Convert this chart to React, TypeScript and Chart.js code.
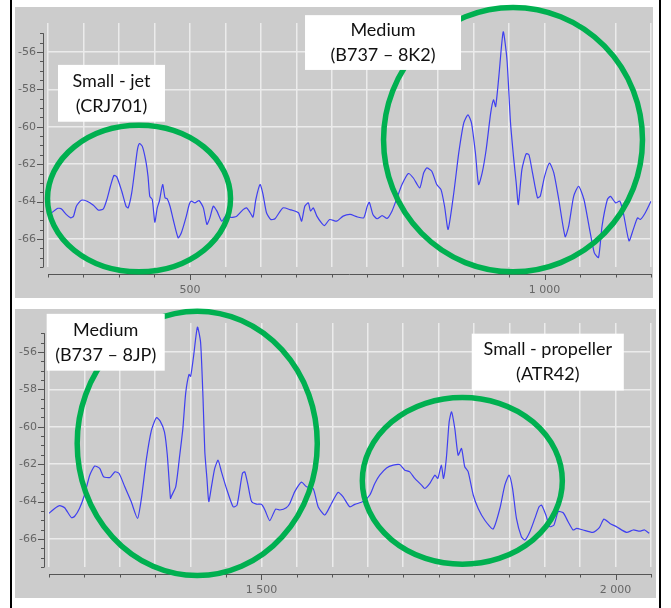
import React, { useEffect, useRef } from "react";
import { Chart, registerables } from "chart.js";

Chart.register(...registerables);

// ---------- DATA ----------
const topX = [
  305, 314, 319, 326, 332, 336, 340, 347, 355, 364, 371, 378, 383, 388, 393, 397, 404, 410, 413, 418,
  423, 426, 429, 433, 438, 441, 443.5, 447, 450.6, 454, 457, 461.6, 465, 468, 472, 476.5, 483.5, 488, 495, 499,
  502, 507, 513, 519, 524, 528, 533, 538, 545, 552, 558, 566, 575, 580, 585, 589, 593, 599, 603, 608,
  614, 620, 631, 641, 653, 657.5, 662, 667, 670, 674, 679, 686, 690, 697, 707, 716, 726, 735, 745, 750,
  753, 758, 764, 771, 778, 785, 792, 799, 808, 815, 824, 829.5, 834, 841, 848, 854, 859, 864, 872, 879,
  886, 892, 897, 902.5, 907, 912, 917.6, 924, 928, 931, 935.5, 941.7, 947, 952, 956.6, 960, 963, 968, 974, 978,
  983, 990, 994, 1000, 1007, 1013, 1020, 1029, 1034, 1041, 1048, 1055.5, 1062.6, 1070, 1076, 1081, 1088.5, 1093, 1100, 1106,
  1111, 1119, 1125, 1131, 1135, 1142, 1150,
];
const topY = [
  -64.6, -64.36, -64.4, -64.7, -64.87, -64.78, -64.25, -63.93, -63.98, -64.2, -64.46, -64.39, -63.89, -63.18, -62.6, -62.68, -63.45, -64.25, -64.34, -63.54,
  -62.1, -61.23, -60.9, -61.05, -61.85, -62.65, -63.72, -63.89, -65.1, -64.34, -63.98, -63.09, -63.8, -63.85, -64.25, -64.96, -65.94, -65.67, -64.78, -64.16,
  -63.98, -64.07, -63.95, -64.34, -65.22, -64.9, -64.25, -64.5, -65.05, -64.69, -64.85, -64.78, -64.43, -64.34, -64.6, -64.83, -63.89, -63.09, -63.6, -64.6,
  -64.96, -64.92, -64.34, -64.43, -64.6, -65.05, -64.25, -64.07, -64.5, -64.34, -64.78, -65.17, -65.28, -64.96, -65.05, -64.78, -64.69, -64.81, -64.87, -64.25,
  -64.04, -64.69, -64.92, -64.75, -64.9, -64.5, -63.8, -63.09, -62.5, -62.74, -63.27, -62.47, -62.2, -62.38, -63.09, -63.36, -64.25, -65.49, -63.54, -61.4,
  -59.8, -59.36, -59.8, -61.4, -63.09, -62.47, -61.23, -59.27, -58.56, -58.92, -57.32, -54.92, -56.43, -59.8, -61.76, -63.0, -64.16, -62.29, -61.44, -61.5,
  -62.47, -63.8, -63.7, -62.65, -61.94, -62.47, -63.89, -65.88, -65.31, -63.72, -63.18, -63.89, -65.31, -66.73, -67.0, -65.31, -63.89, -63.72, -64.07, -63.98,
  -64.6, -66.1, -65.49, -64.87, -64.96, -64.6, -63.98,
];

const bottomX = [
  1200, 1208, 1215, 1222, 1231.6, 1236, 1243, 1250, 1257.5, 1264.5, 1271.6, 1277, 1286, 1293, 1299, 1307, 1316, 1325, 1330.5, 1337.6,
  1344.6, 1351.7, 1357, 1363, 1367, 1371.5, 1373, 1379, 1384.6, 1389, 1393, 1397.7, 1400, 1404, 1409.6, 1414, 1417.5, 1420, 1423, 1425.6,
  1429.4, 1434, 1438.7, 1443.5, 1450.6, 1460, 1465.5, 1473, 1476.4, 1481, 1486, 1493, 1500, 1505, 1511.7, 1520, 1526, 1535, 1540, 1547,
  1556.5, 1563.5, 1573, 1580, 1589.4, 1598.9, 1608, 1615, 1624.7, 1631.8, 1643.5, 1653, 1660, 1667, 1676.6, 1686, 1695, 1702.4, 1709, 1716.5,
  1726, 1730.6, 1737.7, 1744.8, 1749, 1754, 1757, 1761, 1765, 1768.4, 1773, 1777.7, 1782.5, 1787, 1791.8, 1799, 1806, 1815.4, 1827, 1836.6,
  1843.6, 1849.7, 1854.5, 1860, 1867, 1872, 1879, 1886, 1892, 1895.5, 1901.6, 1907, 1913, 1919, 1926, 1933, 1940, 1945, 1954, 1968,
  1977, 1983.5, 1992, 2001, 2015.5, 2025, 2034, 2041, 2047.5,
];
const bottomY = [
  -64.63, -64.37, -64.22, -64.33, -64.86, -64.8, -64.37, -63.66, -62.59, -62.1, -62.23, -62.67, -62.71, -62.41, -62.5, -63.21, -64.0, -64.9, -63.83, -61.7,
  -60.19, -59.51, -59.7, -60.27, -61.5, -63.83, -63.7, -63.2, -61.52, -60.1, -58.2, -57.2, -57.3, -56.27, -54.67, -55.47, -58.5, -61.34, -62.77, -64.0,
  -63.2, -62.23, -61.79, -62.41, -63.3, -64.28, -64.19, -62.5, -62.41, -63.12, -64.0, -64.14, -64.15, -64.46, -65.02, -64.4, -64.45, -64.33, -64.1, -63.47,
  -62.96, -63.21, -63.3, -64.28, -64.72, -64.1, -63.51, -63.74, -64.28, -64.15, -64.0, -63.65, -63.03, -62.59, -62.2, -62.05, -62.02, -62.32, -62.4, -62.76,
  -63.12, -63.3, -63.03, -62.59, -62.76, -62.05, -62.76, -61.7, -59.74, -59.2, -60.1, -61.52, -61.16, -62.14, -62.4, -63.65, -64.37, -65.0, -65.47, -64.37,
  -63.12, -62.59, -63.3, -64.9, -65.88, -66.06, -65.61, -64.9, -64.28, -64.19, -64.72, -65.34, -65.25, -64.54, -64.6, -65.08, -65.52, -65.43, -65.52, -65.65,
  -65.4, -64.94, -65.17, -65.34, -65.65, -65.52, -65.58, -65.52, -65.7,
];

const yTickLabels = [-56, -58, -60, -62, -64, -66];
const topXTickLabels = [500, 1000];
const bottomXTickLabels = [1500, 2000];
const topLabelTexts = [["Small - jet", "(CRJ701)"], ["Medium", "(B737 \u2013 8K2)"]];
const bottomLabelTexts = [["Medium", "(B737 \u2013 8JP)"], ["Small - propeller", "(ATR42)"]];

// ---------- LAYOUT / ANNOTATIONS (data units) ----------
const Y_MIN = -67.5;
const Y_MAX = -54.45;

const panels = [
  {
    top: 0,
    height: 300,
    xMin: 300,
    xMax: 1150,
    xs: topX,
    ys: topY,
    xTicks: topXTickLabels,
    bg: [15, 7, 653, 298],
    padding: { left: 48, top: 23, right: 20, bottom: 33 },
    ellipses: [
      { cx: 428.3, cy: -63.84, rx: 129, ry: 3.92 },
      { cx: 955.5, cy: -60.69, rx: 182.5, ry: 7.07 },
    ],
    boxes: [
      { x0: 314.1, x1: 464.9, y0: -56.69, y1: -59.73, text: topLabelTexts[0] },
      { x0: 662.3, x1: 882.2, y0: -54.03, y1: -56.96, text: topLabelTexts[1] },
    ],
  },
  {
    top: 300,
    height: 308,
    xMin: 1200,
    xMax: 2050,
    xs: bottomX,
    ys: bottomY,
    xTicks: bottomXTickLabels,
    bg: [15, 9, 656, 298],
    padding: { left: 49, top: 23, right: 20, bottom: 41 },
    ellipses: [
      { cx: 1409.3, cy: -60.89, rx: 169.5, ry: 7.07 },
      { cx: 1783.6, cy: -62.89, rx: 141.2, ry: 4.46 },
    ],
    boxes: [
      { x0: 1196.7, x1: 1363.4, y0: -53.96, y1: -57.0, text: bottomLabelTexts[0] },
      { x0: 1796.9, x1: 2011.6, y0: -55.02, y1: -58.06, text: bottomLabelTexts[1] },
    ],
  },
];

function fmt(v: number) {
  if (v >= 1000) return `${Math.floor(v / 1000)} ${String(v % 1000).padStart(3, "0")}`;
  return String(v);
}

function Panel({ cfg }: { cfg: any }) {
  const ref = useRef<HTMLCanvasElement | null>(null);
  useEffect(() => {
    if (!ref.current) return;
    const deco = {
      id: "deco",
      beforeDraw(chart: any) {
        const ctx = chart.ctx;
        ctx.save();
        ctx.fillStyle = "#ffffff";
        ctx.fillRect(0, 0, chart.width, chart.height);
        const [x0, y0, x1, y1] = cfg.bg;
        ctx.fillStyle = "#cccccc";
        ctx.fillRect(x0, y0, x1 - x0, y1 - y0);
        ctx.fillStyle = "#000000";
        ctx.fillRect(10, 0, 2, chart.height);
        ctx.fillRect(659, 0, 2, chart.height);
        ctx.restore();
      },
      afterDraw(chart: any) {
        const ctx = chart.ctx;
        const xs = chart.scales.x;
        const ys = chart.scales.y;
        const area = chart.chartArea;
        ctx.save();
        // y axis
        const ax = area.left - 5;
        ctx.strokeStyle = "#555555";
        ctx.lineWidth = 1;
        ctx.beginPath();
        ctx.moveTo(ax + 0.5, ys.getPixelForValue(-55));
        ctx.lineTo(ax + 0.5, ys.getPixelForValue(-67.5));
        for (let v = -55; v >= -67.5; v -= 0.5) {
          const py = Math.round(ys.getPixelForValue(v)) + 0.5;
          const major = Math.abs(v % 2) < 1e-6;
          ctx.moveTo(ax - (major ? 6 : 3), py);
          ctx.lineTo(ax + 0.5, py);
        }
        ctx.stroke();
        ctx.fillStyle = "#666666";
        ctx.font = '11px "DejaVu Sans"';
        ctx.textAlign = "right";
        ctx.textBaseline = "middle";
        yTickLabels.forEach((v) => {
          ctx.fillText(String(v), ax - 7, ys.getPixelForValue(v));
        });
        // x axis
        const ay = area.bottom + 7;
        ctx.beginPath();
        ctx.moveTo(xs.getPixelForValue(cfg.xMin), ay + 0.5);
        ctx.lineTo(xs.getPixelForValue(cfg.xMax), ay + 0.5);
        for (let v = cfg.xMin; v <= cfg.xMax; v += 50) {
          const px = Math.round(xs.getPixelForValue(v)) + 0.5;
          const major = cfg.xTicks.includes(v);
          ctx.moveTo(px, ay);
          ctx.lineTo(px, ay + (major ? 6 : 3.5));
        }
        ctx.stroke();
        ctx.textAlign = "center";
        cfg.xTicks.forEach((v: number) => {
          ctx.fillText(fmt(v), xs.getPixelForValue(v), ay + 16);
        });
        // ellipses
        ctx.strokeStyle = "#00b050";
        ctx.lineWidth = 5.5;
        cfg.ellipses.forEach((e: any) => {
          const cx = xs.getPixelForValue(e.cx);
          const cy = ys.getPixelForValue(e.cy);
          const rx = Math.abs(xs.getPixelForValue(e.cx + e.rx) - cx);
          const ry = Math.abs(ys.getPixelForValue(e.cy + e.ry) - cy);
          ctx.beginPath();
          ctx.ellipse(cx, cy, rx, ry, 0, 0, Math.PI * 2);
          ctx.stroke();
        });
        // label boxes
        cfg.boxes.forEach((b: any) => {
          const x0 = xs.getPixelForValue(b.x0);
          const x1 = xs.getPixelForValue(b.x1);
          const y0 = ys.getPixelForValue(b.y0);
          const y1 = ys.getPixelForValue(b.y1);
          ctx.fillStyle = "#ffffff";
          ctx.fillRect(x0, y0, x1 - x0, y1 - y0);
          ctx.fillStyle = "#111111";
          ctx.font = "18px Lato";
          ctx.textAlign = "center";
          ctx.textBaseline = "middle";
          const cx = (x0 + x1) / 2;
          const cy = (y0 + y1) / 2;
          ctx.fillText(b.text[0], cx, cy - 12.5);
          ctx.fillText(b.text[1], cx, cy + 12.5);
        });
        ctx.restore();
      },
    };
    const chart = new Chart(ref.current, {
      type: "line",
      data: {
        datasets: [
          {
            data: cfg.xs.map((x: number, i: number) => ({ x, y: cfg.ys[i] })),
            borderColor: "#3f3ff0",
            borderWidth: 1.2,
            pointRadius: 0,
            tension: 0.2,
            fill: false,
          },
        ],
      },
      options: {
        animation: false,
        responsive: false,
        maintainAspectRatio: false,
        layout: { padding: cfg.padding },
        plugins: { legend: { display: false }, tooltip: { enabled: false } },
        scales: {
          x: {
            type: "linear",
            min: cfg.xMin,
            max: cfg.xMax,
            ticks: { display: false, stepSize: 50, includeBounds: false },
            grid: { color: "#ebebeb", lineWidth: 1.5, drawTicks: false },
            border: { display: false },
            afterFit: (s: any) => {
              s.height = 0;
            },
          },
          y: {
            type: "linear",
            min: Y_MIN,
            max: Y_MAX,
            ticks: { display: false, stepSize: 2, includeBounds: false },
            grid: { color: "#ebebeb", lineWidth: 1.5, drawTicks: false },
            border: { display: false },
            afterFit: (s: any) => {
              s.width = 0;
            },
          },
        },
      } as any,
      plugins: [deco],
    });
    return () => chart.destroy();
  }, [cfg]);
  return (
    <canvas
      ref={ref}
      width={671}
      height={cfg.height}
      style={{ position: "absolute", left: 0, top: cfg.top, width: 671, height: cfg.height }}
    />
  );
}

export default function App() {
  return (
    <div style={{ position: "fixed", left: 0, top: 0, width: 671, height: 608, background: "#fff", overflow: "hidden" }}>
      {panels.map((p, i) => (
        <Panel key={i} cfg={p} />
      ))}
    </div>
  );
}
